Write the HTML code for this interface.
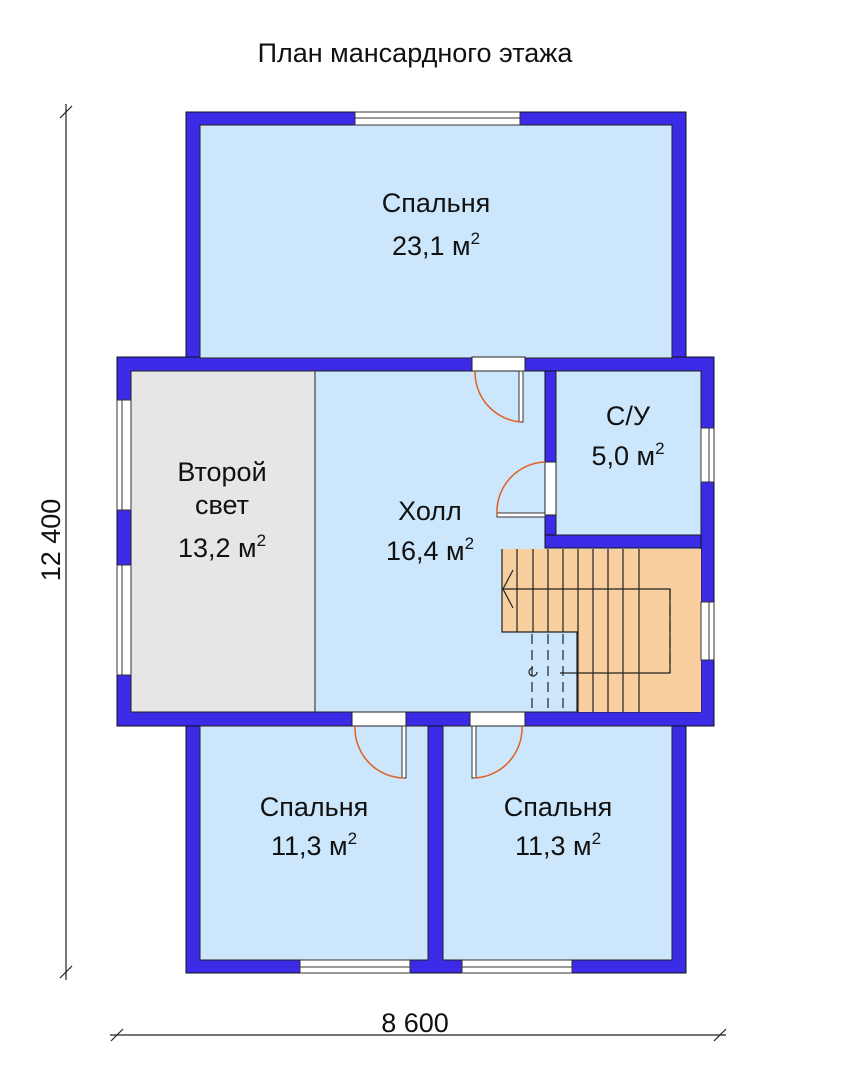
<!DOCTYPE html>
<html><head><meta charset="utf-8"><style>body{margin:0;background:#fff}svg{display:block}text{font-family:"Liberation Sans",sans-serif;fill:#111}</style></head><body>
<svg width="841" height="1080" viewBox="0 0 841 1080" xmlns="http://www.w3.org/2000/svg">
<text x="415" y="62" font-size="27" text-anchor="middle">План мансардного этажа</text>
<g stroke="#222" stroke-width="1.2">
<line x1="66" y1="104" x2="66" y2="980"/><line x1="60" y1="118" x2="72" y2="106"/><line x1="60" y1="978" x2="72" y2="966"/>
<line x1="110" y1="1035" x2="726" y2="1035"/><line x1="111" y1="1041" x2="123" y2="1029"/><line x1="714" y1="1041" x2="726" y2="1029"/>
</g>
<text x="60" y="540" font-size="27" text-anchor="middle" transform="rotate(-90 60 540)">12 400</text>
<text x="415" y="1032" font-size="27" text-anchor="middle">8 600</text>
<g fill="#3c2be6" stroke="#111" stroke-width="1">
<rect x="186" y="112" width="500" height="250"/>
<rect x="186" y="720" width="500" height="253"/>
<rect x="117" y="357" width="597" height="369"/>
</g>
<g stroke="#222" stroke-width="1">
<rect x="200" y="125" width="472" height="233" fill="#cce6fc"/>
<rect x="131" y="371" width="570" height="341" fill="#cce6fc"/>
<rect x="131" y="371" width="184" height="341" fill="#e6e6e6"/>
<rect x="200" y="726" width="228" height="234" fill="#cce6fc"/>
<rect x="443" y="726" width="229" height="234" fill="#cce6fc"/>
</g>
<rect x="545" y="371" width="11" height="177" fill="#3c2be6" stroke="#111"/>
<rect x="545" y="535" width="156" height="13" fill="#3c2be6" stroke="#111"/>
<rect x="556" y="371" width="145" height="164" fill="#cce6fc" stroke="#222"/>
<g fill="#f9cfa0" stroke="none">
<rect x="502" y="549" width="199" height="83"/>
<rect x="577" y="549" width="124" height="163"/>
</g>
<g stroke="#222" stroke-width="1.2" fill="none">
<path d="M502 549 V632 H577 V712"/>
<line x1="517" y1="549" x2="517" y2="632"/><line x1="533" y1="549" x2="533" y2="632"/><line x1="548" y1="549" x2="548" y2="632"/><line x1="563" y1="549" x2="563" y2="632"/>
<line x1="578" y1="549" x2="578" y2="712"/><line x1="593" y1="549" x2="593" y2="712"/><line x1="608" y1="549" x2="608" y2="712"/><line x1="623" y1="549" x2="623" y2="712"/><line x1="639" y1="549" x2="639" y2="712"/>
<path d="M502 589 H670 V673 H560"/>
<path d="M513 570 L503 589 L513 608"/>
<g stroke-dasharray="10 6"><line x1="532" y1="634" x2="532" y2="712"/><line x1="548" y1="634" x2="548" y2="712"/><line x1="563" y1="634" x2="563" y2="712"/><line x1="670" y1="589" x2="670" y2="673"/></g>
<path d="M533 668 a4 4 0 1 0 4 4"/>
</g>
<g fill="#fff" stroke="#333" stroke-width="1">
<rect x="355" y="112" width="165" height="13"/><line x1="355" y1="118" x2="520" y2="118"/>
<rect x="117" y="400" width="14" height="110"/><line x1="122" y1="400" x2="122" y2="510"/>
<rect x="117" y="565" width="14" height="110"/><line x1="122" y1="565" x2="122" y2="675"/>
<rect x="701" y="428" width="13" height="54"/><line x1="709" y1="428" x2="709" y2="482"/>
<rect x="701" y="602" width="13" height="58"/><line x1="709" y1="602" x2="709" y2="660"/>
<rect x="300" y="960" width="110" height="13"/><line x1="300" y1="967" x2="410" y2="967"/>
<rect x="462" y="960" width="110" height="13"/><line x1="462" y1="967" x2="572" y2="967"/>
<rect x="472" y="357" width="53" height="14" stroke="#222"/>
<rect x="545" y="462" width="11" height="53" stroke="#222"/>
<rect x="352" y="712" width="54" height="14" stroke="#222"/>
<rect x="470" y="712" width="55" height="14" stroke="#222"/>
</g>
<g fill="#fff" stroke="#333" stroke-width="1">
<rect x="519" y="371" width="4" height="51"/>
<rect x="497" y="513" width="48" height="4"/>
<rect x="402" y="726" width="4" height="52"/>
<rect x="472" y="726" width="4" height="52"/>
</g>
<g fill="none" stroke="#e06020" stroke-width="1.5">
<path d="M475 371 A50 50 0 0 0 521 422"/>
<path d="M497 515 A50 50 0 0 1 545 462"/>
<path d="M355 726 A50 50 0 0 0 404 778"/>
<path d="M522 726 A50 50 0 0 1 474 778"/>
</g>
<g font-size="27" text-anchor="middle">
<text x="436" y="212">Спальня</text>
<text x="436" y="255">23,1 м<tspan font-size="17" dy="-11">2</tspan></text>
<text x="222" y="481">Второй</text>
<text x="222" y="514">свет</text>
<text x="222" y="557">13,2 м<tspan font-size="17" dy="-11">2</tspan></text>
<text x="430" y="520">Холл</text>
<text x="430" y="560">16,4 м<tspan font-size="17" dy="-11">2</tspan></text>
<text x="628" y="425">С/У</text>
<text x="628" y="465">5,0 м<tspan font-size="17" dy="-11">2</tspan></text>
<text x="314" y="816">Спальня</text>
<text x="314" y="855">11,3 м<tspan font-size="17" dy="-11">2</tspan></text>
<text x="558" y="816">Спальня</text>
<text x="558" y="855">11,3 м<tspan font-size="17" dy="-11">2</tspan></text>
</g>
</svg>
</body></html>
